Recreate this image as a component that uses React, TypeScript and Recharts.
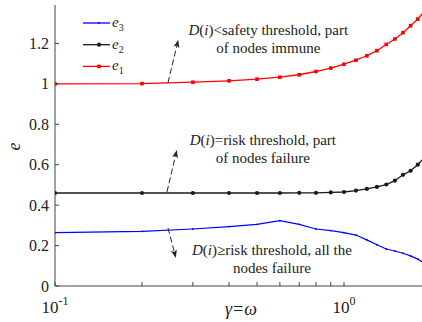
import { LineChart, Line, XAxis, YAxis, Legend, ReferenceLine, Label } from 'recharts';

const X_VALUES = [0.1, 0.2, 0.3, 0.4, 0.5, 0.6, 0.7, 0.8, 0.9, 1.0, 1.1, 1.2, 1.3, 1.4, 1.5, 1.6, 1.7, 1.8, 1.9];
const E1 = [1.0, 1.001, 1.008, 1.015, 1.023, 1.033, 1.045, 1.061, 1.078, 1.097, 1.117, 1.139, 1.164, 1.195, 1.222, 1.253, 1.287, 1.32, 1.36];
const E2 = [0.46, 0.46, 0.46, 0.46, 0.46, 0.46, 0.461, 0.461, 0.463, 0.465, 0.472, 0.48, 0.49, 0.502, 0.521, 0.55, 0.57, 0.6, 0.635];
const E3 = [0.264, 0.27, 0.282, 0.294, 0.305, 0.323, 0.305, 0.282, 0.274, 0.264, 0.252, 0.228, 0.204, 0.183, 0.173, 0.162, 0.149, 0.133, 0.112];

const X_TICKS = [0.1, 0.2, 0.3, 0.4, 0.5, 0.6, 0.7, 0.8, 0.9, 1, 2];
const X_LABELS: Record<number, string> = { 0.1: '-1', 1: '0' };
const Y_TICKS = [0, 0.2, 0.4, 0.6, 0.8, 1, 1.2];

const RED = '#ff0000';
const BLACK = '#1a1a1a';
const BLUE = '#0000ff';
const AXIS = '#444';
const FONT = 'Liberation Serif, Times New Roman, serif';

const data = X_VALUES.map((x, i) => ({ x, e1: E1[i], e2: E2[i], e3: E3[i] }));

function BottomTick({ x, y, payload }: any) {
  const sup = X_LABELS[payload.value];
  return (
    <g>
      <line x1={x} x2={x} y1={y} y2={y - 4} stroke={AXIS} />
      {sup !== undefined && (
        <text x={x} y={y + 27} textAnchor="middle" style={{ fontFamily: FONT }} fontSize={17} fill="#222">
          <tspan>10</tspan>
          <tspan dy={-8} fontSize={12}>{sup}</tspan>
        </text>
      )}
    </g>
  );
}

function TopTick({ x, y }: any) {
  return <line x1={x} x2={x} y1={y} y2={y + 4} stroke={AXIS} />;
}

function LeftTick({ x, y, payload }: any) {
  const axisX = x + 6;
  return (
    <g>
      <line x1={axisX} x2={axisX + 4} y1={y} y2={y} stroke={AXIS} />
      <text x={x} y={y} dy={5.5} textAnchor="end" style={{ fontFamily: FONT }} fontSize={16} fill="#222">
        {String(payload.value)}
      </text>
    </g>
  );
}

function SquareDot({ cx, cy, index }: any) {
  return <rect key={`s${index}`} x={cx - 1.8} y={cy - 1.8} width={3.6} height={3.6} fill={RED} />;
}
function CircleDot({ cx, cy, index }: any) {
  return <circle key={`c${index}`} cx={cx} cy={cy} r={2.1} fill={BLACK} />;
}
function PointDot({ cx, cy, index }: any) {
  return <circle key={`p${index}`} cx={cx} cy={cy} r={0.9} fill={BLUE} />;
}

function LegendBox() {
  const rows = [
    { sub: '3', color: BLUE, dot: <circle cx={16} cy={0} r={0.9} fill={BLUE} /> },
    { sub: '2', color: BLACK, dot: <circle cx={16} cy={0} r={2.1} fill={BLACK} /> },
    { sub: '1', color: RED, dot: <rect x={14.2} y={-1.8} width={3.6} height={3.6} fill={RED} /> },
  ];
  return (
    <svg width={60} height={70} style={{ display: 'block' }}>
      {rows.map((r, i) => (
        <g key={r.sub} transform={`translate(3, ${11 + i * 21.7})`}>
          <line x1={0} x2={27} y1={0} y2={0} stroke={r.color} strokeWidth={1.3} />
          {r.dot}
          <text x={29} y={4} style={{ fontFamily: FONT }} fontSize={15} fill="#222">
            <tspan fontStyle="italic">e</tspan>
            <tspan dy={4} fontSize={10}>{r.sub}</tspan>
          </text>
        </g>
      ))}
    </svg>
  );
}

function DText({ rel, rest }: { rel: string; rest: string }) {
  return (
    <>
      <tspan fontStyle="italic">D</tspan>(<tspan fontStyle="italic">i</tspan>){rel}
      {rest}
    </>
  );
}

function makeArrow(rel: string, rest: string, line2: string, dx: number, dy1: number, dy2: number) {
  return (p: any) => {
    const { x1, y1, x2, y2 } = p;
    const ang = Math.atan2(y2 - y1, x2 - x1);
    const len = 8;
    const wid = 3;
    const bx = x2 - len * Math.cos(ang);
    const by = y2 - len * Math.sin(ang);
    const px = -Math.sin(ang) * wid;
    const py = Math.cos(ang) * wid;
    const nx = x2 - (len - 2) * Math.cos(ang);
    const ny = y2 - (len - 2) * Math.sin(ang);
    return (
      <g>
        <line x1={x1} y1={y1} x2={nx} y2={ny} stroke="#222" strokeWidth={1} strokeDasharray="6 3" />
        <path
          d={`M${x2},${y2} L${bx + px},${by + py} L${nx},${ny} L${bx - px},${by - py} Z`}
          fill="#222"
        />
        <text x={x2 + dx} y={y2 + dy1} textAnchor="middle" style={{ fontFamily: FONT }} fontSize={15} fill="#222">
          <DText rel={rel} rest={rest} />
        </text>
        <text x={x2 + dx} y={y2 + dy2} textAnchor="middle" style={{ fontFamily: FONT }} fontSize={15} fill="#222">
          {line2}
        </text>
      </g>
    );
  };
}

const XLabel = ({ viewBox }: any) => (
  <text
    x={viewBox.x + viewBox.width / 2 - 2}
    y={viewBox.y + 29}
    textAnchor="middle"
    style={{ fontFamily: FONT }}
    fontSize={18}
    fontStyle="italic"
    fill="#222"
  >
    γ=ω
  </text>
);

const YLabel = ({ viewBox }: any) => {
  const cx = 20;
  const cy = viewBox.y + viewBox.height / 2 + 1;
  return (
    <text
      x={cx}
      y={cy}
      transform={`rotate(-90, ${cx}, ${cy})`}
      textAnchor="middle"
      style={{ fontFamily: FONT }}
      fontSize={18}
      fontStyle="italic"
      fill="#222"
    >
      e
    </text>
  );
};

export default function App() {
  return (
    <div
      style={{
        position: 'absolute',
        left: 0,
        top: 0,
        width: 422,
        height: 322,
        overflow: 'hidden',
        background: '#fff',
        fontFamily: FONT,
      }}
    >
      <LineChart width={440} height={322} data={data} margin={{ top: 5, right: 9, bottom: 0, left: 0 }}>
        <XAxis
          dataKey="x"
          type="number"
          scale="log"
          domain={[0.1, 2]}
          allowDataOverflow
          ticks={X_TICKS}
          height={36}
          tickSize={0}
          tickMargin={0}
          tickLine={false}
          tick={<BottomTick />}
          axisLine={{ stroke: AXIS }}
          interval={0}
        >
          <Label content={<XLabel />} />
        </XAxis>
        <XAxis
          xAxisId="top"
          dataKey="x"
          type="number"
          scale="log"
          domain={[0.1, 2]}
          allowDataOverflow
          orientation="top"
          ticks={X_TICKS}
          height={0}
          tickSize={0}
          tickMargin={0}
          tickLine={false}
          tick={<TopTick />}
          axisLine={{ stroke: AXIS }}
          interval={0}
        />
        <YAxis
          type="number"
          domain={[0, 1.39]}
          allowDataOverflow
          ticks={Y_TICKS}
          width={55}
          tickSize={0}
          tickMargin={6}
          tickLine={false}
          tick={<LeftTick />}
          axisLine={{ stroke: AXIS }}
          interval={0}
        >
          <Label content={<YLabel />} />
        </YAxis>
        <Legend
          layout="vertical"
          align="center"
          verticalAlign="middle"
          content={<LegendBox />}
          wrapperStyle={{ left: 80, top: 12, width: 60, height: 70 }}
        />
        <Line dataKey="e3" stroke={BLUE} strokeWidth={1.2} dot={<PointDot />} isAnimationActive={false} />
        <Line dataKey="e2" stroke={BLACK} strokeWidth={1.3} dot={<CircleDot />} isAnimationActive={false} />
        <Line dataKey="e1" stroke={RED} strokeWidth={1.3} dot={<SquareDot />} isAnimationActive={false} />
        <ReferenceLine
          segment={[{ x: 0.246, y: 1.005 }, { x: 0.267, y: 1.218 }]}
          shape={makeArrow('<', 'safety threshold, part', 'of nodes immune', 90, -5, 13)}
        />
        <ReferenceLine
          segment={[{ x: 0.244, y: 0.465 }, { x: 0.264, y: 0.673 }]}
          shape={makeArrow('=', 'risk threshold, part', 'of nodes failure', 86, -5, 13)}
        />
        <ReferenceLine
          segment={[{ x: 0.246, y: 0.287 }, { x: 0.262, y: 0.139 }]}
          shape={makeArrow('≥', 'risk threshold, all the', 'nodes failure', 96, -3, 15)}
        />
      </LineChart>
    </div>
  );
}
